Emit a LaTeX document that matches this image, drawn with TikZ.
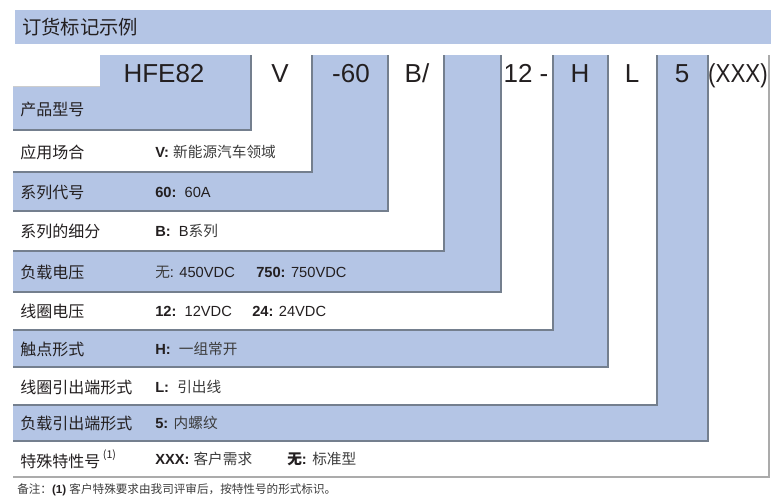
\documentclass[tikz,border=0pt]{standalone}
\usepackage{fontspec}
\setmainfont{Liberation Sans}
\newfontfamily\cjk{Noto Sans CJK SC}
\definecolor{hfblue}{HTML}{B4C5E5}
\definecolor{hfedge}{HTML}{747F8E}
\definecolor{hfgray}{HTML}{ABABAB}
\definecolor{hftext}{HTML}{231F20}
\definecolor{hfsoft}{HTML}{3C3C3C}
\newcommand{\zh}[1]{{\cjk\color{hfsoft}#1}}
\tikzset{
  band/.style={fill=hfblue},
  rim/.style={draw=hfedge,line width=0.8pt},
  lbl/.style={anchor=west,inner sep=0pt,font=\fontsize{12}{14}\selectfont\cjk,text=hftext},
  val/.style={anchor=west,inner sep=0pt,font=\fontsize{11}{13}\selectfont,text=hftext},
  code/.style={anchor=base,inner sep=0pt,font=\fontsize{19.5}{22}\selectfont,text=hftext}
}
\begin{document}
\begin{tikzpicture}[x=0.75pt,y=-0.75pt]
  \useasboundingbox (0,0) rectangle (783,504);
  % title bar
  \fill[band] (15,10) rectangle (771,44);
  \node[anchor=west,inner sep=0pt,font=\fontsize{14.5}{17}\selectfont\cjk,text=hftext] (title) at (22,27) {订货标记示例};

  % nested bands, outermost first
  \fill[white] (13,55) rectangle (769,477);
  \draw[rim,draw=hfgray] (769,55) -- (769,477) -- (13,477);
  \fill[band] (13,55) rectangle (708,441);
  \draw[rim] (708,55) -- (708,441) -- (13,441);
  \fill[white] (13,55) rectangle (657,405);
  \draw[rim] (657,55) -- (657,405) -- (13,405);
  \fill[band] (13,55) rectangle (608,367);
  \draw[rim] (608,55) -- (608,367) -- (13,367);
  \fill[white] (13,55) rectangle (553,330);
  \draw[rim] (553,55) -- (553,330) -- (13,330);
  \fill[band] (13,55) rectangle (501,292);
  \draw[rim] (501,55) -- (501,292) -- (13,292);
  \fill[white] (13,55) rectangle (444,251);
  \draw[rim] (444,55) -- (444,251) -- (13,251);
  \fill[band] (13,55) rectangle (388,211);
  \draw[rim] (388,55) -- (388,211) -- (13,211);
  \fill[white] (13,55) rectangle (312,172);
  \draw[rim] (312,55) -- (312,172) -- (13,172);
  \fill[band] (100,55) -- (251,55) -- (251,130) -- (13,130) -- (13,86) -- (100,86) -- cycle;
  \draw[rim] (251,55) -- (251,130) -- (13,130);
  \draw[hfgray!60,line width=0.5pt] (13,86) -- (100,86);

  % order code
  \node[code] (cHFE) at (164,82) {HFE82};
  \node[code] (cV) at (280,82) {V};
  \node[code] (c60) at (351,82) {-60};
  \node[code] (cB) at (417,82) {B/};
  \node[code] (c12) at (526,82) {12 -};
  \node[code] (cH) at (580,82) {H};
  \node[code] (cL) at (632,82) {L};
  \node[code] (c5) at (682,82) {5};
  \node[code] (cX) at (738,82) {\scalebox{0.86}[1]{(XXX)}};

  % row labels
  \node[lbl] (lType) at (20,109) {产品型号};
  \node[lbl] (lUse) at (20,152) {应用场合};
  \node[lbl] (lSer) at (20,192) {系列代号};
  \node[lbl] (lSub) at (20,231) {系列的细分};
  \node[lbl] (lLoad) at (20,272) {负载电压};
  \node[lbl] (lCoil) at (20,311) {线圈电压};
  \node[lbl] (lCont) at (20,349) {触点形式};
  \node[lbl] (lCoilT) at (20,387) {线圈引出端形式};
  \node[lbl] (lLoadT) at (20,423) {负载引出端形式};
  \node[lbl] (lSpec) at (20,459) {特殊特性号\,\raisebox{0.55em}{\fontsize{8}{9}\selectfont(1)}};

  % row values
  \node[val] (vUse) at (155,152) {\textbf{V:} \zh{新能源汽车领域}};
  \node[val] (vSer) at (155,192) {\textbf{60:}\ \ 60A};
  \node[val] (vSub) at (155,231) {\textbf{B:}\ \ B\zh{系列}};
  \node[val] (vLoad) at (155,272) {\zh{无}: 450VDC};
  \node[val] (vLoad2) at (256,272) {\textbf{750:} 750VDC};
  \node[val] (vCoil) at (155,311) {\textbf{12:}\ \ 12VDC};
  \node[val] (vCoil2) at (252,311) {\textbf{24:} 24VDC};
  \node[val] (vCont) at (155,349) {\textbf{H:}\ \ \zh{一组常开}};
  \node[val] (vCoilT) at (155,387) {\textbf{L:}\ \ \zh{引出线}};
  \node[val] (vLoadT) at (155,423) {\textbf{5:} \zh{内螺纹}};
  \node[val] (vSpec) at (155,459) {\textbf{XXX:} \zh{客户需求}};
  \node[val] (vSpec2) at (287,459) {{\cjk\bfseries 无}\textbf{:} \zh{标准型}};

  % footnote
  \node[anchor=west,inner sep=0pt,font=\fontsize{8.7}{10}\selectfont,text=hftext] (note) at (17,490) {\zh{备注：}\textbf{(1)} \zh{客户特殊要求由我司评审后，按特性号的形式标识。}};
\end{tikzpicture}
\end{document}
